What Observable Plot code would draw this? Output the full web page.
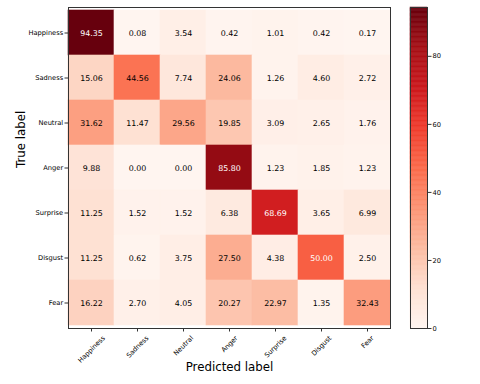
<!DOCTYPE html>
<html>
<head>
<meta charset="utf-8">
<script src="https://cdn.jsdelivr.net/npm/d3@7"></script>
<script src="https://cdn.jsdelivr.net/npm/@observablehq/plot@0.6"></script>
<style>
  html, body { margin: 0; padding: 0; background: #fff; }
  #wrap { position: relative; width: 480px; height: 384px; font-family: "DejaVu Sans", sans-serif; }
  #wrap svg { position: absolute; left: 0; top: 0; }
</style>
</head>
<body>
<div id="wrap"></div>
<script>
// ---- data ----
const labels = ["Happiness", "Sadness", "Neutral", "Anger", "Surprise", "Disgust", "Fear"];
const rowHappiness = [94.35, 0.08, 3.54, 0.42, 1.01, 0.42, 0.17];
const rowSadness   = [15.06, 44.56, 7.74, 24.06, 1.26, 4.60, 2.72];
const rowNeutral   = [31.62, 11.47, 29.56, 19.85, 3.09, 2.65, 1.76];
const rowAnger     = [9.88, 0.00, 0.00, 85.80, 1.23, 1.85, 1.23];
const rowSurprise  = [11.25, 1.52, 1.52, 6.38, 68.69, 3.65, 6.99];
const rowDisgust   = [11.25, 0.62, 3.75, 27.50, 4.38, 50.00, 2.50];
const rowFear      = [16.22, 2.70, 4.05, 20.27, 22.97, 1.35, 32.43];
const colorbarTicks = [0, 20, 40, 60, 80];
const xTitle = "Predicted label";
const yTitle = "True label";

const rows = [rowHappiness, rowSadness, rowNeutral, rowAnger, rowSurprise, rowDisgust, rowFear];
const table = [];
rows.forEach((r, i) => r.forEach((v, j) => table.push({truth: labels[i], pred: labels[j], v})));
const vmax = d3.max(table, d => d.v);

// matplotlib "Reds" (linear through the 9 ColorBrewer stops)
const redsStops = ["#fff5f0","#fee0d2","#fcbba1","#fc9272","#fb6a4a","#ef3b2c","#cb181d","#a50f15","#67000d"];
const colorScale = {
  type: "linear",
  domain: redsStops.map((_, i) => i * vmax / (redsStops.length - 1)),
  range: redsStops,
  interpolate: "rgb"
};

const FONT = "DejaVu Sans";
const tickFs = 6.7;

// measure label widths for matplotlib-like rotated (ha=center) tick labels
const ctx = document.createElement("canvas").getContext("2d");
ctx.font = `${tickFs}px "${FONT}"`;

const xLabelMarks = labels.map(lab => {
  const L = ctx.measureText(lab).width;
  return Plot.text([lab], {
    x: d => d, frameAnchor: "bottom", text: d => d,
    rotate: -45, textAnchor: "end", lineAnchor: "middle",
    dx: 0.354 * L, dy: 8.5, fontSize: tickFs, fill: "#000"
  });
});

const main = Plot.plot({
  width: 480, height: 384,
  marginTop: 7, marginBottom: 56, marginLeft: 68, marginRight: 90,
  style: {fontFamily: FONT, background: "transparent", overflow: "visible"},
  x: {domain: labels, padding: 0, label: null},
  y: {domain: labels, padding: 0, label: null},
  color: colorScale,
  marks: [
    Plot.cell(table, {x: "pred", y: "truth", fill: "v", stroke: "v", strokeWidth: 0.6}),
    Plot.text(table, {
      x: "pred", y: "truth", text: d => d.v.toFixed(2),
      fill: d => d.v > vmax / 2 ? "#ffffff" : "#000000", fontSize: 7.9
    }),
    Plot.frame({stroke: "#333", strokeWidth: 1}),
    Plot.axisY({anchor: "left", tickSize: 3.5, tickPadding: 1.8, fontSize: tickFs, label: null, stroke: "#333", color: "#000"}),
    Plot.axisX({anchor: "bottom", tickSize: 3.5, tickFormat: () => "", label: null, stroke: "#333"}),
    ...xLabelMarks,
    Plot.text([xTitle], {frameAnchor: "bottom", dy: 42, fontSize: 11.8, fill: "#000", text: d => d}),
    Plot.text([yTitle], {frameAnchor: "left", dx: -47.5, rotate: -90, fontSize: 11.8, fill: "#000", text: d => d})
  ]
});

// colorbar
const steps = d3.range(256).map(i => ({y1: i * vmax / 256, y2: (i + 1) * vmax / 256, v: (i + 0.5) * vmax / 256}));
const bar = Plot.plot({
  width: 480, height: 384,
  marginTop: 7, marginBottom: 56, marginLeft: 410, marginRight: 53,
  style: {fontFamily: FONT, background: "transparent", overflow: "visible"},
  y: {domain: [0, vmax], label: null},
  color: colorScale,
  marks: [
    Plot.rect(steps, {y1: "y1", y2: "y2", fill: "v", stroke: "v", strokeWidth: 0.5}),
    Plot.frame({stroke: "#333", strokeWidth: 1}),
    Plot.axisY({anchor: "right", ticks: colorbarTicks, tickSize: 3.5, tickPadding: 1.5, fontSize: tickFs, label: null, stroke: "#333", color: "#000"})
  ]
});

const wrap = document.getElementById("wrap");
wrap.appendChild(main);
wrap.appendChild(bar);
</script>
</body>
</html>
